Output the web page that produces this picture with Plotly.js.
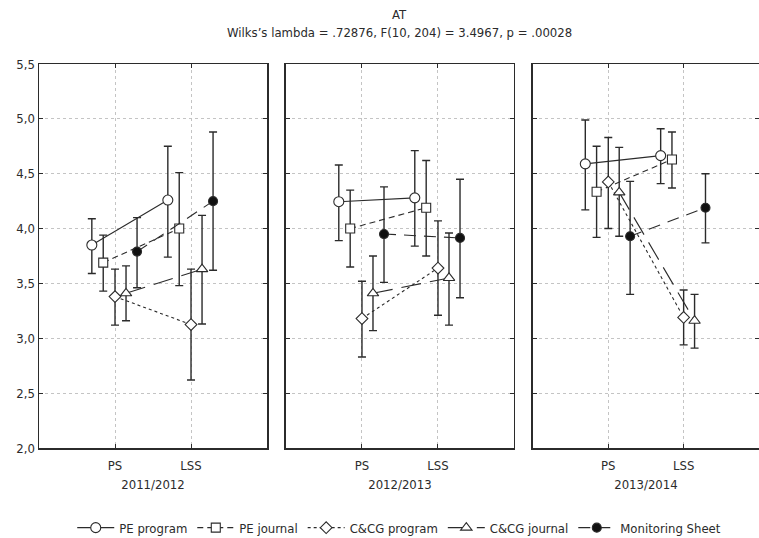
<!DOCTYPE html>
<html>
<head>
<meta charset="utf-8">
<script src="https://cdn.plot.ly/plotly-3.0.1.min.js"></script>
<style>html,body{margin:0;padding:0;background:#fff;}#chart{width:759px;height:538px;}</style>
</head>
<body>
<div id="chart"></div>
<script>
// ---- data ----
const categories = ['PS', 'LSS'];
const periods = ['2011/2012', '2012/2013', '2013/2014'];
const yTickVals = [2.0, 2.5, 3.0, 3.5, 4.0, 4.5, 5.0, 5.5];
const yTickText = ['2,0', '2,5', '3,0', '3,5', '4,0', '4,5', '5,0', '5,5'];
const seriesNames = ['PE program', 'PE journal', 'C&CG program', 'C&CG journal', 'Monitoring Sheet'];

// values ordered: [P1 PS, P1 LSS, P2 PS, P2 LSS, P3 PS, P3 LSS]
const peProgram     = [3.85, 4.26, 4.245, 4.28, 4.59, 4.665];
const peProgramHi   = [4.09, 4.75, 4.58, 4.71, 4.99, 4.91];
const peProgramLo   = [3.59, 3.74, 3.89, 3.84, 4.17, 4.41];

const peJournal     = [3.69, 4.00, 4.00, 4.19, 4.335, 4.63];
const peJournalHi   = [3.94, 4.51, 4.35, 4.62, 4.75, 4.88];
const peJournalLo   = [3.43, 3.48, 3.65, 3.75, 3.92, 4.37];

const ccgProgram    = [3.38, 3.125, 3.18, 3.64, 4.425, 3.19];
const ccgProgramHi  = [3.63, 3.63, 3.52, 4.07, 4.83, 3.44];
const ccgProgramLo  = [3.12, 2.62, 2.83, 3.21, 4.00, 2.94];

const ccgJournal    = [3.41, 3.63, 3.41, 3.55, 4.33, 3.16];
const ccgJournalHi  = [3.66, 4.12, 3.75, 3.96, 4.74, 3.40];
const ccgJournalLo  = [3.16, 3.13, 3.07, 3.12, 3.93, 2.91];

const monitoring    = [3.79, 4.25, 3.95, 3.915, 3.93, 4.19];
const monitoringHi  = [4.10, 4.88, 4.38, 4.45, 4.43, 4.50];
const monitoringLo  = [3.46, 3.62, 3.51, 3.37, 3.40, 3.87];

// ---- styling ----
const ink = '#2b2b2b';
const FONT = '"Liberation Sans Narrow", "DejaVu Sans Condensed", "Roboto Condensed", Arial, sans-serif';
const offsets = [-0.305, -0.155, 0, 0.145, 0.29];
const styles = [
  {symbol: 'circle', size: 10, dash: 'solid', fill: '#fff'},
  {symbol: 'square', size: 9, dash: '6px,4px', fill: '#fff'},
  {symbol: 'diamond', size: 9, dash: 'dot', fill: '#fff'},
  {symbol: 'triangle-up', size: 10, dash: '20px,9px', fill: '#fff'},
  {symbol: 'circle', size: 9, dash: '12px,8px', fill: '#111'}
];
const means = [peProgram, peJournal, ccgProgram, ccgJournal, monitoring];
const highs = [peProgramHi, peJournalHi, ccgProgramHi, ccgJournalHi, monitoringHi];
const lows  = [peProgramLo, peJournalLo, ccgProgramLo, ccgJournalLo, monitoringLo];

const traces = [];
for (let s = 0; s < seriesNames.length; s++) {
  for (let p = 0; p < periods.length; p++) {
    const idx = [2 * p, 2 * p + 1];
    const y = idx.map(i => means[s][i]);
    const up = idx.map(i => highs[s][i] - means[s][i]);
    const dn = idx.map(i => means[s][i] - lows[s][i]);
    const sfx = p === 0 ? '' : String(p + 1);
    traces.push({
      type: 'scatter', mode: 'lines+markers',
      name: seriesNames[s], legendgroup: seriesNames[s], showlegend: p === 0,
      x: categories.map((c, k) => k + 1 + offsets[s]),
      y: y,
      xaxis: 'x' + sfx, yaxis: 'y' + sfx,
      line: {color: ink, width: 1.1, dash: styles[s].dash},
      marker: {symbol: styles[s].symbol, size: styles[s].size, color: styles[s].fill,
               line: {color: ink, width: 1.1}},
      error_y: {type: 'data', symmetric: false, array: up, arrayminus: dn,
                color: ink, thickness: 1.4, width: 4},
      cliponaxis: false
    });
  }
}

const domains = [[0, 0.3167], [0.343, 0.6597], [0.686, 1]];
const layout = {
  width: 759, height: 538,
  margin: {l: 39, r: 0, t: 64, b: 90},
  paper_bgcolor: '#fff', plot_bgcolor: '#fff',
  font: {family: FONT, size: 13, color: ink},
  showlegend: true,
  legend: {orientation: 'h', xref: 'container', yref: 'container',
           x: 0.526, xanchor: 'center', y: 0.047, yanchor: 'top',
           font: {family: FONT, size: 13, color: ink}, itemwidth: 37, tracegroupgap: 0},
  annotations: [
    {text: 'AT', xref: 'paper', yref: 'paper', x: 0.5, y: 1, yshift: 59, showarrow: false,
     font: {family: FONT, size: 13, color: ink}},
    {text: 'Wilks\u2019s lambda = .72876, F(10, 204) = 3.4967, p = .00028', xref: 'paper', yref: 'paper',
     x: 0.5, y: 1, yshift: 41, showarrow: false, font: {family: FONT, size: 13, color: ink}}
  ]
};
for (let p = 0; p < 3; p++) {
  const sfx = p === 0 ? '' : String(p + 1);
  layout['xaxis' + sfx] = {
    domain: domains[p], anchor: 'y' + sfx, range: [0, 3],
    tickmode: 'array', tickvals: [1, 2], ticktext: categories,
    ticks: 'inside', ticklen: 4, tickcolor: ink, mirror: 'ticks',
    ticklabelstandoff: 5, automargin: false,
    showline: true, linecolor: ink, linewidth: 1.5,
    showgrid: true, gridcolor: '#c4c4c4', griddash: 'dot', gridwidth: 1,
    zeroline: false, fixedrange: true,
    tickfont: {family: FONT, size: 13, color: ink},
    title: {text: periods[p], standoff: 8, font: {family: FONT, size: 13, color: ink}}
  };
  layout['yaxis' + sfx] = {
    domain: [0, 1], anchor: 'x' + sfx, range: [2.0, 5.5],
    tickmode: 'array', tickvals: yTickVals, ticktext: yTickText,
    showticklabels: p === 0, automargin: false,
    ticks: 'inside', ticklen: 4, tickcolor: ink, mirror: 'ticks',
    showline: true, linecolor: ink, linewidth: 1.5,
    showgrid: true, gridcolor: '#c4c4c4', griddash: 'dot', gridwidth: 1,
    zeroline: false, fixedrange: true,
    tickfont: {family: FONT, size: 13, color: ink}
  };
}
Plotly.newPlot('chart', traces, layout, {displayModeBar: false, staticPlot: true});
</script>
</body>
</html>
